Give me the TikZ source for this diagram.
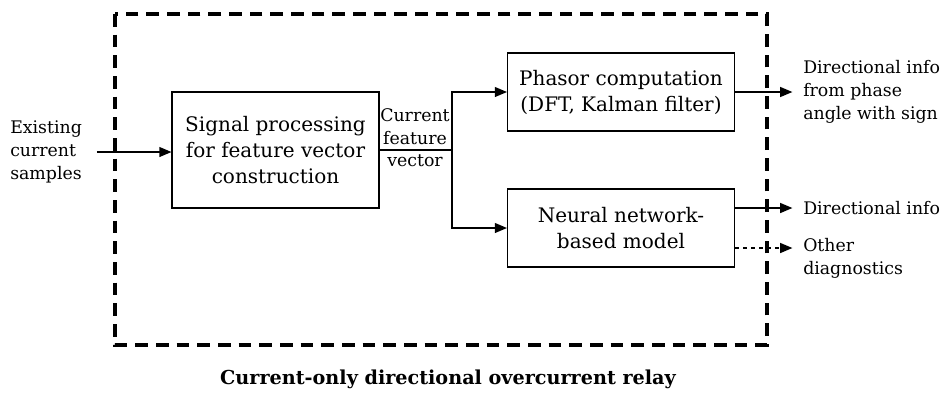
\documentclass[tikz,border=0pt]{standalone}
\usepackage{fontspec}
\setmainfont{DejaVu Serif}
\usetikzlibrary{arrows,calc,positioning}

\tikzset{
  block/.style={draw, line width=1.1pt, fill=white, align=center,
    font=\fontsize{15}{19.5}\selectfont},
  note/.style={align=left, inner sep=0pt, font=\fontsize{13}{17.25}\selectfont},
  link/.style={line width=1.1pt, ->, >=triangle 45},
}

\begin{document}
\begin{tikzpicture}[x=.75pt, y=-.75pt]
\useasboundingbox (0,0) rectangle (946,397);

%%%%%%%%%%%%%%%%% relay frame
\draw[line width=2.4pt, dash pattern=on 9.5pt off 6pt] (115,14) rectangle (767,345);

%%%%%%%%%%%%%%%%% blocks
\node[block, minimum width=155pt, minimum height=87pt] (sp) at (275.5,150)
  {Signal processing\\for feature vector\\construction};
\node[block, minimum width=170pt, minimum height=58.5pt] (ph) at (621,92)
  {Phasor computation\\(DFT, Kalman filter)};
\node[block, minimum width=170pt, minimum height=58.5pt] (nn) at (621,228)
  {Neural network-\\based model};

%%%%%%%%%%%%%%%%% input side
\node[note, anchor=west] (in) at (10,152) {Existing\\current\\samples};
\draw[link, shorten <=11pt] (in.east) -- (in.east -| sp.west);

\node[note, align=center, anchor=south] (cf) at (415,145) {Current\\feature};
\node[note, anchor=north] (vec) at (415,154) {vector};
\coordinate (br) at (452,150);
\draw[line width=1.1pt] (sp.east) -- (br);
\draw[link] (br) |- (ph.west);
\draw[link] (br) |- (nn.west);

%%%%%%%%%%%%%%%%% outputs
\node[note, anchor=west] (phase) at (803,92) {Directional info\\from phase\\angle with sign};
\node[note, anchor=west] (dir) at (803,208) {Directional info};
\node[note, anchor=north west] (diag) at (803,238) {Other\\diagnostics};
\coordinate (nnhi) at ($(nn.east)+(0,-20)$);
\coordinate (nnlo) at ($(nn.east)+(0,20)$);
\draw[link, shorten >=8pt] (ph.east) -- (ph.east -| phase.west);
\draw[link, shorten >=8pt] (nnhi) -- (nnhi -| dir.west);
\draw[link, dashed, shorten >=8pt] (nnlo) -- (nnlo -| diag.west);

\node[font=\bfseries\fontsize{14.4}{17}\selectfont] (cap) at (448,379)
  {Current-only directional overcurrent relay};
\end{tikzpicture}
\end{document}
